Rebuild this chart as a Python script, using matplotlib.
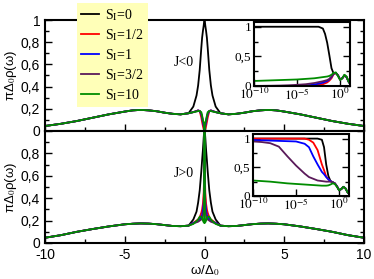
import numpy as np
import matplotlib
matplotlib.use("Agg")
import matplotlib.pyplot as plt
from matplotlib.lines import Line2D
from matplotlib.ticker import MultipleLocator, FixedLocator, NullLocator

# ---------------- data ----------------
labels = ["S$_\\mathrm{I}$=0", "S$_\\mathrm{I}$=1/2", "S$_\\mathrm{I}$=1", "S$_\\mathrm{I}$=3/2", "S$_\\mathrm{I}$=10"]
colors = ["#000000", "#ff0000", "#0000ff", "#5a1a5a", "#008c00"]

# main panels: |omega| grid near zero (per series) and outer grid (shared)
omega_core = [0, 0.005, 0.02, 0.05, 0.1, 0.15, 0.2, 0.3, 0.4, 0.5, 0.7]
omega_outer = [1, 1.5, 2, 2.5, 3, 3.5, 4, 4.5, 5, 6, 7, 8, 9, 10]

top_core_black = [1.0, 1.0, 0.99, 0.95, 0.90, 0.84, 0.75, 0.55, 0.41, 0.32, 0.22]
top_core_red = [0.0, 0.005, 0.006, 0.015, 0.045, 0.08, 0.12, 0.18, 0.185, 0.18, 0.17]
top_core_blue = [0.0, 0.01, 0.025, 0.045, 0.08, 0.12, 0.15, 0.18, 0.185, 0.18, 0.17]
top_core_purple = [0.0, 0.015, 0.03, 0.055, 0.09, 0.13, 0.155, 0.18, 0.185, 0.18, 0.17]
top_core_green = [0.0, 0.04, 0.06, 0.075, 0.10, 0.14, 0.17, 0.18, 0.18, 0.175, 0.17]
top_outer = [0.16, 0.15, 0.155, 0.165, 0.178, 0.186, 0.19, 0.186, 0.175, 0.15, 0.12, 0.09, 0.065, 0.045]

bot_core_black = [1.0, 1.0, 1.0, 0.94, 0.83, 0.74, 0.64, 0.47, 0.36, 0.28, 0.21]
bot_core_red = [1.0, 0.85, 0.62, 0.45, 0.35, 0.30, 0.27, 0.23, 0.21, 0.20, 0.18]
bot_core_blue = [1.0, 0.70, 0.48, 0.36, 0.29, 0.25, 0.23, 0.21, 0.20, 0.19, 0.18]
bot_core_purple = [1.0, 0.55, 0.38, 0.30, 0.25, 0.22, 0.21, 0.20, 0.19, 0.185, 0.175]
bot_core_green = [1.0, 0.18, 0.18, 0.185, 0.20, 0.22, 0.235, 0.235, 0.21, 0.195, 0.17]
bot_outer = [0.155, 0.15, 0.152, 0.16, 0.168, 0.173, 0.175, 0.172, 0.167, 0.148, 0.125, 0.10, 0.07, 0.047]

# insets: log10(omega) grid
log_omega = [-10, -9, -8, -7, -6, -5, -4, -3.5, -3, -2.5, -2, -1.75, -1.5, -1.25, -1,
             -0.75, -0.5, -0.25, 0, 0.25, 0.5, 0.75, 1, 1.15]

ins_top_black = [1, 1, 1, 1, 1, 1, 1, 1, 1, 1, 0.97, 0.88, 0.73, 0.52, 0.30,
                 0.21, 0.22, 0.18, 0.11, 0.13, 0.18, 0.15, 0.07, 0.04]
ins_top_red = [0, 0, 0, 0, 0, 0, 0.002, 0.005, 0.01, 0.02, 0.03, 0.045, 0.06, 0.09, 0.13,
               0.20, 0.22, 0.18, 0.11, 0.13, 0.18, 0.15, 0.07, 0.04]
ins_top_blue = [0, 0, 0, 0, 0, 0.002, 0.008, 0.015, 0.025, 0.04, 0.055, 0.07, 0.085, 0.11, 0.15,
                0.21, 0.22, 0.18, 0.11, 0.13, 0.18, 0.15, 0.07, 0.04]
ins_top_purple = [0.001, 0.002, 0.004, 0.007, 0.012, 0.02, 0.03, 0.04, 0.05, 0.065, 0.08, 0.09, 0.10, 0.12, 0.16,
                  0.21, 0.22, 0.18, 0.11, 0.13, 0.18, 0.15, 0.07, 0.04]
ins_top_green = [0.085, 0.09, 0.095, 0.10, 0.105, 0.11, 0.12, 0.125, 0.13, 0.14, 0.15, 0.155, 0.16, 0.17, 0.19,
                 0.22, 0.23, 0.17, 0.10, 0.13, 0.19, 0.16, 0.07, 0.04]

ins_bot_black = [1, 1, 1, 1, 1, 1, 1, 1, 1, 1, 0.98, 0.85, 0.55, 0.35, 0.26,
                 0.24, 0.22, 0.17, 0.10, 0.12, 0.16, 0.13, 0.06, 0.04]
ins_bot_red = [1, 1, 1, 1, 1, 1, 1, 0.98, 0.93, 0.80, 0.55, 0.45, 0.34, 0.29, 0.26,
               0.24, 0.22, 0.17, 0.10, 0.12, 0.16, 0.13, 0.06, 0.04]
ins_bot_blue = [0.975, 0.97, 0.965, 0.96, 0.955, 0.95, 0.91, 0.85, 0.69, 0.55, 0.42, 0.38, 0.33, 0.29, 0.26,
                0.24, 0.22, 0.17, 0.10, 0.12, 0.16, 0.13, 0.06, 0.04]
ins_bot_purple = [0.95, 0.94, 0.92, 0.86, 0.69, 0.53, 0.39, 0.33, 0.30, 0.27, 0.26, 0.255, 0.25, 0.25, 0.25,
                  0.24, 0.22, 0.17, 0.10, 0.12, 0.16, 0.13, 0.06, 0.04]
ins_bot_green = [0.27, 0.26, 0.25, 0.235, 0.22, 0.21, 0.20, 0.195, 0.19, 0.185, 0.18, 0.18, 0.18, 0.185, 0.20,
                 0.22, 0.21, 0.16, 0.10, 0.12, 0.16, 0.13, 0.06, 0.04]

x_major = [-10, -5, 0, 5, 10]
x_ticklabels = ["-10", "-5", "0", "5", "10"]
y_major = [0, 0.2, 0.4, 0.6, 0.8, 1.0]
y_ticklabels_top = ["0", "0,2", "0,4", "0,6", "0,8", "1"]
y_ticklabels_bot = ["0", "0,2", "0,4", "0,6", "0,8", ""]
ins_y_major = [0, 0.5, 1]
ins_y_labels = ["0", "0,5", "1"]
ins_x_major = [1e-10, 1e-5, 1e0]
ins_x_labels = ["$10^{-10}$", "$10^{-5}$", "$10^{0}$"]

# ---------------- style ----------------
plt.rcParams["font.family"] = ["Liberation Sans", "DejaVu Sans"]
plt.rcParams["mathtext.fontset"] = "stix"
SERIF = ["Liberation Serif", "DejaVu Serif"]

W, H = 374, 279
fig = plt.figure(figsize=(W / 100, H / 100), dpi=100)

def fx(px):
    return px / W

def fy(py):
    return 1 - py / H

left, right = 45, 364
ax_top = fig.add_axes([fx(left), fy(131), fx(right - left), (131 - 20) / H])
ax_bot = fig.add_axes([fx(left), fy(243), fx(right - left), (243 - 131) / H])

def full_curve(core, outer):
    w = np.array(omega_core + omega_outer, dtype=float)
    v = np.array(core + outer, dtype=float)
    wneg = -w[::-1][:-1]
    vneg = v[::-1][:-1]
    return np.concatenate([wneg, w]), np.concatenate([vneg, v])

top_cores = [top_core_black, top_core_red, top_core_blue, top_core_purple, top_core_green]
bot_cores = [bot_core_black, bot_core_red, bot_core_blue, bot_core_purple, bot_core_green]

for ax, cores, outer, ylabels, jtxt in [
    (ax_top, top_cores, top_outer, y_ticklabels_top, "J<0"),
    (ax_bot, bot_cores, bot_outer, y_ticklabels_bot, "J>0"),
]:
    for core, c in zip(cores, colors):
        w, v = full_curve(core, outer)
        ax.plot(w, v, color=c, lw=1.3)
    ax.set_xlim(-10, 10)
    ax.set_ylim(0, 1)
    ax.set_xticks(x_major)
    ax.xaxis.set_minor_locator(MultipleLocator(2.5))
    ax.set_yticks(y_major)
    ax.set_yticklabels(ylabels)
    ax.yaxis.set_minor_locator(MultipleLocator(0.1))
    ax.tick_params(which="both", direction="in", left=True, right=True, top=False, bottom=True,
                   labelsize=10, width=1.0)
    ax.tick_params(which="major", length=5)
    ax.tick_params(which="minor", length=3)
    for s in ax.spines.values():
        s.set_linewidth(1.5)
    ax.set_ylabel("πΔ$_0$ρ(ω)", fontsize=9.5, labelpad=1)
    ax.text(-1.3, 0.62, jtxt, family=SERIF, fontsize=10, ha="center", va="center")

ax_top.set_xticklabels([])
ax_bot.set_xticklabels(x_ticklabels)
ax_bot.set_xlabel("ω/Δ$_0$", fontsize=9.5, labelpad=1)

# insets
ins_top = fig.add_axes([fx(254), fy(86), fx(350 - 254), (86 - 22) / H])
ins_bot = fig.add_axes([fx(253), fy(196), fx(349 - 253), (196 - 134) / H])
w_ins = np.power(10.0, np.array(log_omega))
for ax, series in [
    (ins_top, [ins_top_black, ins_top_red, ins_top_blue, ins_top_purple, ins_top_green]),
    (ins_bot, [ins_bot_black, ins_bot_red, ins_bot_blue, ins_bot_purple, ins_bot_green]),
]:
    for vals, c in zip(series, colors):
        ax.plot(w_ins, vals, color=c, lw=1.3)
    ax.set_xscale("log")
    ax.set_xlim(1e-10, 10 ** 1.15)
    ax.set_ylim(0, 1.08)
    ax.xaxis.set_major_locator(FixedLocator(ins_x_major))
    ax.xaxis.set_minor_locator(NullLocator())
    ax.set_xticklabels(ins_x_labels, family=SERIF)
    ax.set_yticks(ins_y_major)
    ax.set_yticklabels(ins_y_labels, family=SERIF)
    ax.yaxis.set_minor_locator(MultipleLocator(0.25))
    ax.tick_params(which="both", direction="in", left=True, right=True, top=False, bottom=True,
                   labelsize=9.5, width=1.0)
    ax.tick_params(axis="x", pad=1)
    ax.tick_params(axis="y", pad=2)
    ax.tick_params(which="major", length=5)
    ax.tick_params(which="minor", length=3)
    for s in ax.spines.values():
        s.set_linewidth(1.5)

# legend
handles = [Line2D([], [], color=c, lw=1.3) for c in colors]
leg = fig.legend(handles, labels, loc="upper left", bbox_to_anchor=(fx(77), fy(3)),
                 frameon=True, fancybox=False, facecolor="#ffffb8", edgecolor="none", framealpha=1,
                 prop={"family": SERIF, "size": 10}, handlelength=1.3, handletextpad=0.4,
                 labelspacing=0.3, borderpad=0.3, borderaxespad=0)

fig.savefig("out.png", dpi=100)
